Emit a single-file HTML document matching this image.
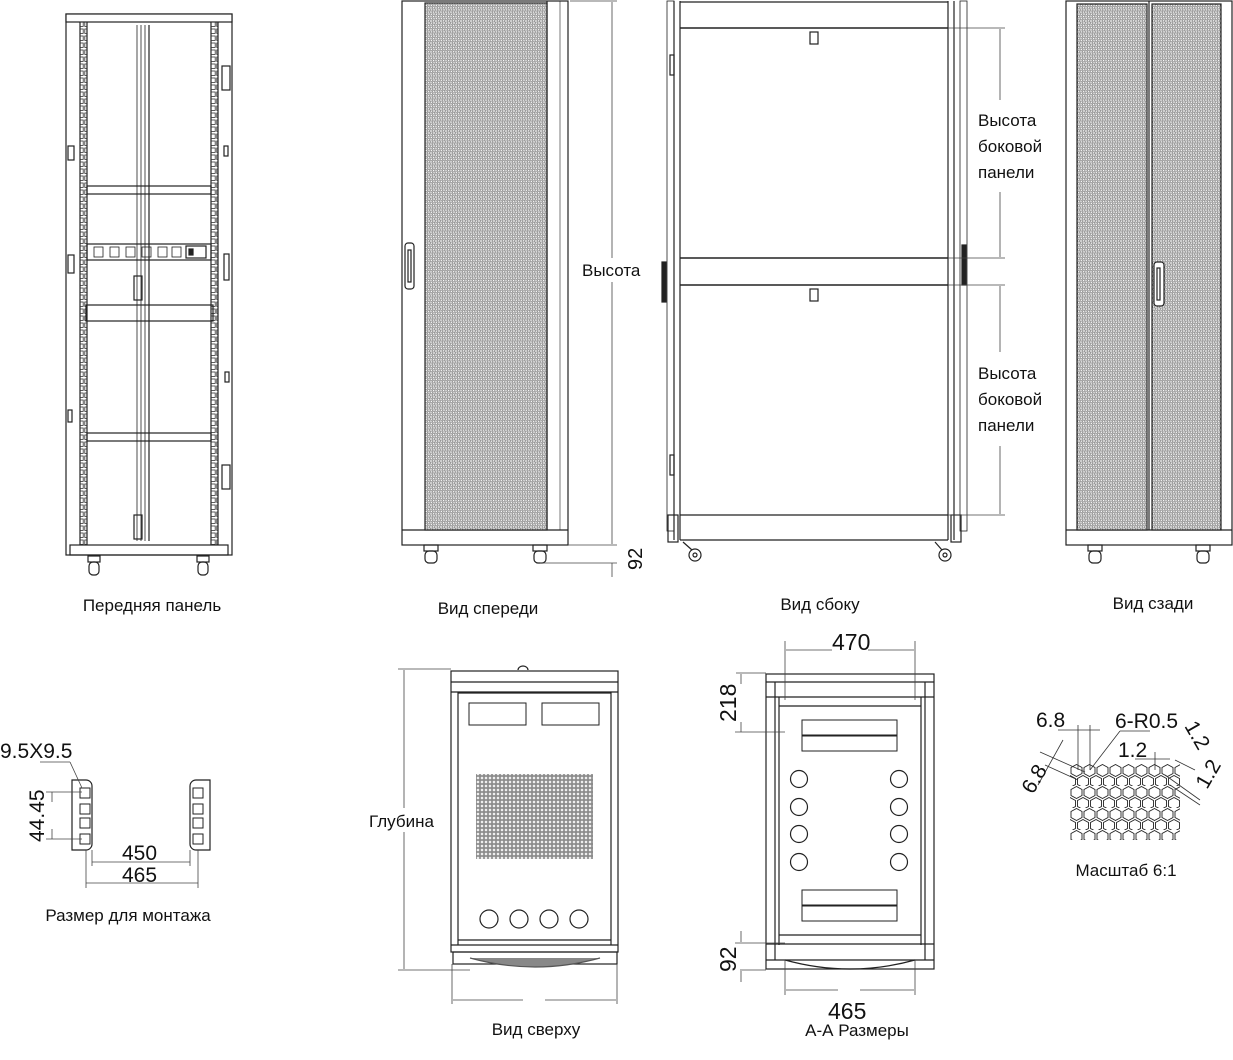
<!DOCTYPE html>
<html><head><meta charset="utf-8">
<style>
html,body{margin:0;padding:0;background:#fff;}
svg{display:block}
text{font-family:"Liberation Sans","DejaVu Sans",sans-serif;fill:#111;}
</style></head><body>
<svg width="1233" height="1060" viewBox="0 0 1233 1060" xmlns="http://www.w3.org/2000/svg">
<defs>
 <pattern id="mesh" width="5" height="4.4" patternUnits="userSpaceOnUse">
  <rect width="5" height="4.4" fill="#cfcfcf"/>
  <circle cx="1.25" cy="1.1" r="1.1" fill="#fff" stroke="#666" stroke-width="0.5"/>
  <circle cx="3.75" cy="3.3" r="1.1" fill="#fff" stroke="#666" stroke-width="0.5"/>
 </pattern>
 <pattern id="grid" width="4" height="4" patternUnits="userSpaceOnUse">
  <rect width="4" height="4" fill="#888"/>
  <rect x="0.8" y="0.8" width="2.4" height="2.4" fill="#eee"/>
 </pattern>
 <pattern id="rail" width="6" height="7" patternUnits="userSpaceOnUse">
  <rect x="0.8" y="1" width="4.4" height="4.4" fill="none" stroke="#333" stroke-width="0.8"/>
 </pattern>
 <pattern id="hex" x="1070" y="764" width="13" height="22" patternUnits="userSpaceOnUse">
  <polygon points="6.5,0.5 12,3.5 12,9.5 6.5,12.5 1,9.5 1,3.5" fill="none" stroke="#222" stroke-width="0.9"/>
  <polygon points="0,11.5 5.5,14.5 5.5,20.5 0,23.5 -5.5,20.5 -5.5,14.5" fill="none" stroke="#222" stroke-width="0.9"/>
  <polygon points="13,11.5 18.5,14.5 18.5,20.5 13,23.5 7.5,20.5 7.5,14.5" fill="none" stroke="#222" stroke-width="0.9"/>
 </pattern>
</defs>

<g fill="none" stroke="#222" stroke-width="1.2">
<rect x="66" y="14" width="166" height="541"/>
<rect x="66" y="14" width="166" height="8" fill="#fff"/>
<rect x="70" y="545" width="158" height="10"/>
<line x1="80" y1="22" x2="80" y2="545"/><line x1="87" y1="22" x2="87" y2="545"/>
<line x1="211" y1="22" x2="211" y2="545"/><line x1="218" y1="22" x2="218" y2="545"/>
<rect x="80" y="22" width="7" height="523" fill="url(#rail)" stroke="none"/>
<rect x="211" y="22" width="7" height="523" fill="url(#rail)" stroke="none"/>
<line x1="137" y1="25" x2="137" y2="541" stroke-width="0.8"/><line x1="141" y1="25" x2="141" y2="541" stroke-width="0.8"/>
<line x1="145" y1="25" x2="145" y2="541" stroke-width="0.8"/><line x1="149" y1="25" x2="149" y2="541"/>
<rect x="87" y="186" width="124" height="8"/>
<rect x="87" y="433" width="124" height="8"/>
<rect x="87" y="244" width="124" height="16"/>
<g stroke-width="0.8"><rect x="94" y="247" width="9" height="10"/><rect x="110" y="247" width="9" height="10"/><rect x="126" y="247" width="9" height="10"/><rect x="142" y="247" width="9" height="10"/><rect x="158" y="247" width="9" height="10"/><rect x="172" y="247" width="9" height="10"/></g>
<rect x="186" y="246" width="20" height="12"/><rect x="189" y="249" width="4" height="6" fill="#222"/>
<rect x="86" y="305" width="127" height="16"/>
<rect x="134" y="276" width="8" height="24"/>
<rect x="134" y="515" width="8" height="24"/>
<rect x="68" y="146" width="6" height="14"/><rect x="68" y="255" width="6" height="18"/>
<rect x="224" y="146" width="4" height="10"/><rect x="224" y="254" width="5" height="26"/>
<rect x="222" y="66" width="8" height="24"/><rect x="222" y="465" width="8" height="24"/>
<rect x="68" y="410" width="4" height="12"/><rect x="225" y="372" width="4" height="10"/>
<g><rect x="88" y="556" width="12" height="6"/><rect x="89" y="562" width="10" height="13" rx="4"/>
<rect x="197" y="556" width="12" height="6"/><rect x="198" y="562" width="10" height="13" rx="4"/></g>

<rect x="402" y="1" width="166" height="544"/>
<line x1="402" y1="530" x2="568" y2="530"/>
<rect x="425" y="3" width="122" height="527" fill="url(#mesh)"/>
<line x1="547" y1="1" x2="547" y2="530"/><line x1="560" y1="1" x2="560" y2="530" stroke-width="0.6"/>
<rect x="405" y="243" width="9" height="46" rx="3"/><rect x="408" y="250" width="3" height="32"/>
<rect x="424" y="545" width="14" height="6"/><rect x="425" y="551" width="12" height="12" rx="4"/>
<rect x="533" y="545" width="14" height="6"/><rect x="534" y="551" width="12" height="12" rx="4"/>
</g>
<g stroke="#444" stroke-width="0.8" fill="none">
<line x1="570" y1="1" x2="617" y2="1"/>
<line x1="612" y1="2" x2="612" y2="258"/><line x1="612" y1="282" x2="612" y2="544"/>
<line x1="568" y1="545" x2="617" y2="545"/>
<line x1="540" y1="563" x2="617" y2="563"/>
<line x1="612" y1="563" x2="612" y2="577"/>
</g>
<text x="582" y="276" font-size="17">Высота</text>
<text x="0" y="0" font-size="20" transform="translate(642,570) rotate(-90)">92</text>

<g fill="none" stroke="#222" stroke-width="1.2">
<rect x="667" y="1" width="7" height="530" stroke-width="0.8"/>
<line x1="674" y1="1" x2="674" y2="540"/><line x1="680" y1="1" x2="680" y2="540"/>
<rect x="668" y="515" width="10" height="27"/>
<line x1="680" y1="2" x2="948" y2="2"/>
<line x1="680" y1="28" x2="948" y2="28" stroke-width="1.6"/>
<line x1="680" y1="258" x2="948" y2="258" stroke-width="1.6"/>
<line x1="680" y1="285" x2="948" y2="285" stroke-width="1.6"/>
<line x1="680" y1="515" x2="948" y2="515"/>
<line x1="680" y1="540" x2="948" y2="540"/>
<line x1="948" y1="1" x2="948" y2="540"/><line x1="954" y1="1" x2="954" y2="540"/>
<rect x="960" y="1" width="7" height="530" stroke-width="0.8"/>
<rect x="951" y="515" width="10" height="27"/>
<rect x="810" y="32" width="8" height="12"/><rect x="810" y="289" width="8" height="12"/>
<rect x="662" y="262" width="4" height="40" fill="#222"/><rect x="962" y="245" width="4" height="40" fill="#222"/>
<rect x="670" y="55" width="4" height="20"/><rect x="670" y="455" width="4" height="20"/>
<circle cx="695" cy="555" r="6"/><circle cx="695" cy="555" r="2"/>
<circle cx="945" cy="555" r="6"/><circle cx="945" cy="555" r="2"/>
<line x1="683" y1="542" x2="692" y2="550"/><line x1="935" y1="542" x2="942" y2="550"/>
</g>
<g stroke="#444" stroke-width="0.8">
<line x1="948" y1="28" x2="1005" y2="28"/><line x1="948" y1="258" x2="1005" y2="258"/>
<line x1="948" y1="285" x2="1005" y2="285"/><line x1="948" y1="515" x2="1005" y2="515"/>
<line x1="1000" y1="29" x2="1000" y2="100"/><line x1="1000" y1="192" x2="1000" y2="257"/>
<line x1="1000" y1="286" x2="1000" y2="352"/><line x1="1000" y1="446" x2="1000" y2="514"/>
</g>
<g font-size="17"><text x="978" y="126">Высота</text><text x="978" y="152">боковой</text><text x="978" y="178">панели</text>
<text x="978" y="379">Высота</text><text x="978" y="405">боковой</text><text x="978" y="431">панели</text></g>

<g fill="none" stroke="#222" stroke-width="1.2">
<rect x="1066" y="1" width="166" height="544"/>
<line x1="1066" y1="530" x2="1232" y2="530"/>
<rect x="1077" y="4" width="70" height="526" fill="url(#mesh)"/>
<rect x="1152" y="4" width="69" height="526" fill="url(#mesh)"/>
<line x1="1149" y1="1" x2="1149" y2="530"/>
<rect x="1154" y="262" width="10" height="44" rx="3" fill="#fff"/><rect x="1157" y="268" width="3" height="32"/>
<rect x="1088" y="545" width="14" height="6"/><rect x="1089" y="551" width="12" height="12" rx="4"/>
<rect x="1196" y="545" width="14" height="6"/><rect x="1197" y="551" width="12" height="12" rx="4"/>

<path d="M72,780 h14 a6,6 0 0 1 6,6 v58 a6,6 0 0 1 -6,6 h-14 z"/>
<path d="M210,780 h-14 a6,6 0 0 0 -6,6 v58 a6,6 0 0 0 6,6 h14 z"/>
<g stroke-width="1"><rect x="80" y="788" width="10" height="10"/><rect x="80" y="804" width="10" height="10"/><rect x="80" y="818" width="10" height="10"/><rect x="80" y="834" width="10" height="10"/>
<rect x="193" y="788" width="10" height="10"/><rect x="193" y="804" width="10" height="10"/><rect x="193" y="818" width="10" height="10"/><rect x="193" y="834" width="10" height="10"/></g>
</g>
<g stroke="#444" stroke-width="0.8">
<line x1="40" y1="762" x2="70" y2="762"/><line x1="70" y1="762" x2="82" y2="788"/>
<line x1="46" y1="792" x2="82" y2="792"/><line x1="46" y1="839" x2="82" y2="839"/>
<line x1="52" y1="792" x2="52" y2="802"/><line x1="52" y1="829" x2="52" y2="839"/>
<line x1="92" y1="850" x2="92" y2="866"/><line x1="190" y1="850" x2="190" y2="866"/>
<line x1="86" y1="850" x2="86" y2="888"/><line x1="198" y1="850" x2="198" y2="888"/>
<line x1="92" y1="862" x2="190" y2="862"/><line x1="86" y1="883" x2="198" y2="883"/>
</g>
<g font-size="21"><text x="0" y="758">9.5X9.5</text><text x="122" y="860">450</text><text x="122" y="882">465</text>
<text transform="translate(44,842) rotate(-90)">44.45</text></g>

<g fill="none" stroke="#222" stroke-width="1.2">
<rect x="451" y="671" width="167" height="281"/>
<line x1="451" y1="682" x2="618" y2="682"/><line x1="451" y1="692" x2="618" y2="692"/>
<line x1="458" y1="692" x2="458" y2="945"/><line x1="611" y1="692" x2="611" y2="945"/>
<line x1="458" y1="693" x2="611" y2="693"/><line x1="458" y1="940" x2="611" y2="940"/>
<line x1="451" y1="945" x2="618" y2="945"/>
<rect x="469" y="703" width="57" height="22" stroke-width="1"/><rect x="542" y="703" width="57" height="22" stroke-width="1"/>
<rect x="476" y="774" width="117" height="85" fill="url(#grid)" stroke="none"/>
<circle cx="489" cy="919" r="9"/><circle cx="519" cy="919" r="9"/><circle cx="549" cy="919" r="9"/><circle cx="579" cy="919" r="9"/>
<rect x="453" y="952" width="164" height="12"/>
<path d="M470,958 Q535,976 600,958" fill="#888" stroke="#555"/>
<path d="M518,670 a5,4 0 0 1 10,0"/>
</g>
<g stroke="#444" stroke-width="0.8">
<line x1="398" y1="669" x2="451" y2="669"/><line x1="398" y1="970" x2="470" y2="970"/>
<line x1="404" y1="670" x2="404" y2="808"/><line x1="404" y1="832" x2="404" y2="969"/>
<line x1="452" y1="964" x2="452" y2="1004"/><line x1="617" y1="964" x2="617" y2="1004"/>
<line x1="453" y1="1000" x2="523" y2="1000"/><line x1="545" y1="1000" x2="616" y2="1000"/>
</g>
<text x="369" y="827" font-size="17">Глубина</text>

<g fill="none" stroke="#222" stroke-width="1.2">
<rect x="766" y="674" width="168" height="295"/>
<line x1="766" y1="682" x2="934" y2="682"/><line x1="766" y1="697" x2="934" y2="697"/>
<line x1="775" y1="682" x2="775" y2="960"/><line x1="925" y1="682" x2="925" y2="960"/>
<line x1="779" y1="697" x2="779" y2="945"/><line x1="921" y1="697" x2="921" y2="945"/>
<line x1="779" y1="706" x2="921" y2="706"/>
<line x1="779" y1="935" x2="921" y2="935"/><line x1="766" y1="944" x2="934" y2="944"/>
<line x1="766" y1="960" x2="934" y2="960"/>
<rect x="802" y="720" width="95" height="15" stroke-width="1"/><rect x="802" y="736" width="95" height="15" stroke-width="1"/>
<rect x="802" y="890" width="95" height="15" stroke-width="1"/><rect x="802" y="906" width="95" height="15" stroke-width="1"/>
<circle cx="799" cy="779" r="8.5"/><circle cx="799" cy="807" r="8.5"/><circle cx="799" cy="834" r="8.5"/><circle cx="799" cy="862" r="8.5"/>
<circle cx="899" cy="779" r="8.5"/><circle cx="899" cy="807" r="8.5"/><circle cx="899" cy="834" r="8.5"/><circle cx="899" cy="862" r="8.5"/>
<path d="M785,960 Q850,978 915,960"/>
</g>
<g stroke="#444" stroke-width="0.8">
<line x1="785" y1="641" x2="785" y2="700"/><line x1="915" y1="641" x2="915" y2="700"/>
<line x1="786" y1="650" x2="832" y2="650"/><line x1="868" y1="650" x2="914" y2="650"/>
<line x1="736" y1="673" x2="766" y2="673"/><line x1="735" y1="732" x2="785" y2="732"/>
<line x1="741" y1="674" x2="741" y2="684"/><line x1="741" y1="722" x2="741" y2="732"/>
<line x1="735" y1="943" x2="785" y2="943"/><line x1="740" y1="970" x2="766" y2="970"/>
<line x1="741" y1="931" x2="741" y2="942"/><line x1="741" y1="971" x2="741" y2="982"/>
<line x1="785" y1="960" x2="785" y2="995"/><line x1="915" y1="960" x2="915" y2="995"/>
<line x1="786" y1="990" x2="838" y2="990"/><line x1="860" y1="990" x2="914" y2="990"/>
</g>
<g font-size="23"><text x="832" y="650">470</text><text x="828" y="1019">465</text>
<text transform="translate(736,722) rotate(-90)">218</text><text transform="translate(736,972) rotate(-90)">92</text></g>

<rect x="1070" y="764" width="110" height="76" fill="url(#hex)"/>
<g stroke="#333" stroke-width="0.8" fill="none">
<line x1="1058" y1="730" x2="1100" y2="730"/><line x1="1078" y1="725" x2="1078" y2="770"/><line x1="1090" y1="725" x2="1090" y2="770"/>
<line x1="1120" y1="731" x2="1150" y2="731"/><line x1="1120" y1="731" x2="1090" y2="770"/>
<line x1="1135" y1="759" x2="1170" y2="759"/><line x1="1155" y1="752" x2="1155" y2="770"/>
<line x1="1040" y1="752" x2="1085" y2="772"/><line x1="1045" y1="765" x2="1078" y2="780"/><line x1="1038" y1="785" x2="1063" y2="740"/>
<line x1="1175" y1="760" x2="1195" y2="770"/><line x1="1165" y1="775" x2="1200" y2="800"/><line x1="1170" y1="785" x2="1200" y2="805"/>
</g>
<g font-size="21"><text x="1036" y="727">6.8</text><text x="1115" y="728">6-R0.5</text><text x="1118" y="757">1.2</text>
<text transform="translate(1033,795) rotate(-60)">6.8</text>
<text transform="translate(1184,726) rotate(60)">1.2</text>
<text transform="translate(1207,790) rotate(-60)">1.2</text></g>

<g font-size="17" text-anchor="middle">
<text x="152" y="611">Передняя панель</text>
<text x="488" y="614">Вид спереди</text>
<text x="820" y="610">Вид сбоку</text>
<text x="1153" y="609">Вид сзади</text>
<text x="128" y="921">Размер для монтажа</text>
<text x="536" y="1035">Вид сверху</text>
<text x="857" y="1036">А-А Размеры</text>
<text x="1126" y="876">Масштаб 6:1</text>
</g>
</svg>
</body></html>
